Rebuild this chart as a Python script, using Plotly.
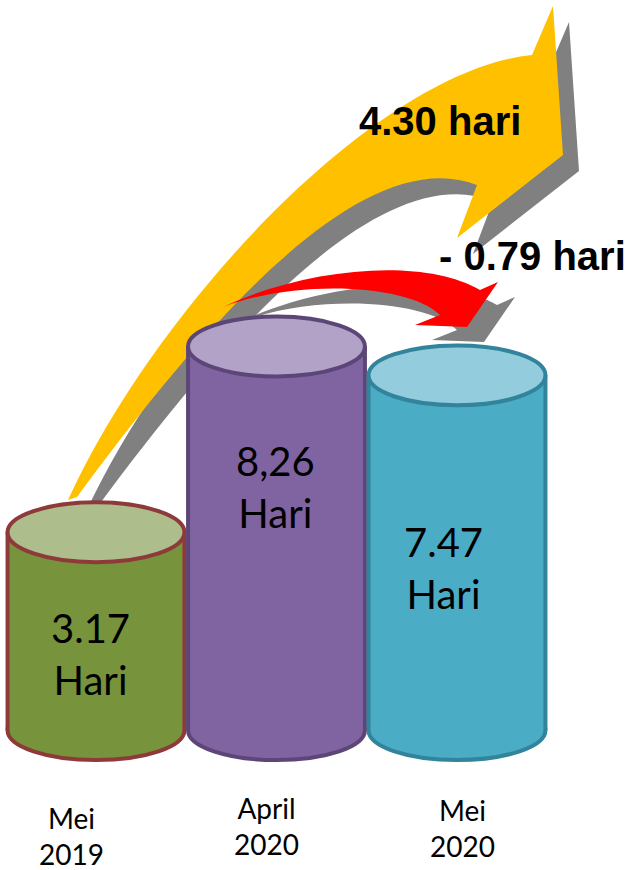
import plotly.graph_objects as go

# ---------------- data ----------------
CATEGORIES = ["Mei 2019", "April 2020", "Mei 2020"]
VALUES = [3.17, 8.26, 7.47]
VALUE_TEXT = ["3.17", "8,26", "7.47"]
UNIT = "Hari"
CHANGE_LABELS = ["4.30 hari", "- 0.79 hari"]

# ---------------- styles ----------------
W, H = 632, 870
BODY_COLORS = ["#77933C", "#8064A2", "#4BACC6"]
TOP_COLORS = ["#ADBE8C", "#B3A2C7", "#93CDDD"]
EDGE_COLORS = ["#8E3A3A", "#5C4677", "#31849B"]
YELLOW, RED, SHADOW = "#FFC000", "#FF0000", "#808080"

X0_PX, X_STEP = 96, 180.5          # pixel of first category, pixels per category
Y0_PX, Y_UNIT = 648, 36.5          # pixel of value 0, pixels per unit
BASE = -2.25                       # cylinder floor (axis units)
BAR_W = 0.98
ELL_RY = 0.82
EDGE_W = 4

LABEL_FONT = "Lato, 'Open Sans', sans-serif"
ARROW_FONT = "'Liberation Sans', Arial, sans-serif"
VALUE_LABEL_PX = [(90, 654), (275, 487), (443, 568)]
CAT_LABEL_PX = [(71, 836), (266, 826), (462, 828)]
CHANGE_LABEL_PX = [(440, 121), (532, 256)]


def P(x, y, dx=0, dy=0):
    return f"{(x + dx) / W:.5f},{1 - (y + dy) / H:.5f}"


def yellow_path(dx=0, dy=0):
    return (f"M {P(68,500,dx,dy)} C {P(160,300,dx,dy)} {P(380,70,dx,dy)} {P(532,55,dx,dy)} "
            f"L {P(553,6,dx,dy)} L {P(563,155,dx,dy)} L {P(457,238,dx,dy)} L {P(477,185,dx,dy)} "
            f"C {P(360,140,dx,dy)} {P(200,330,dx,dy)} {P(77,497,dx,dy)} Z")


def red_path(dx=0, dy=0):
    return (f"M {P(223,307,dx,dy)} C {P(300,270,dx,dy)} {P(420,255,dx,dy)} {P(480,290,dx,dy)} "
            f"L {P(498,282,dx,dy)} L {P(467,327,dx,dy)} L {P(415,325,dx,dy)} L {P(440,315,dx,dy)} "
            f"C {P(410,285,dx,dy)} {P(300,278,dx,dy)} {P(223,307,dx,dy)} Z")


xs = list(range(len(VALUES)))

fig = go.Figure()
fig.add_trace(go.Bar(
    x=xs, y=[v - BASE for v in VALUES], base=BASE, width=BAR_W,
    marker=dict(color=BODY_COLORS, line=dict(width=0)),
    hoverinfo="skip", showlegend=False,
))

shapes = []
# arrows (behind everything)
shapes.append(dict(type="path", xref="paper", yref="paper", path=yellow_path(16, 16),
                   fillcolor=SHADOW, line=dict(width=0), layer="below"))
shapes.append(dict(type="path", xref="paper", yref="paper", path=yellow_path(),
                   fillcolor=YELLOW, line=dict(width=0), layer="below"))
shapes.append(dict(type="path", xref="paper", yref="paper", path=red_path(17, 15),
                   fillcolor=SHADOW, line=dict(width=0), layer="below"))
shapes.append(dict(type="path", xref="paper", yref="paper", path=red_path(),
                   fillcolor=RED, line=dict(width=0), layer="below"))

for i, v in enumerate(VALUES):
    x0, x1 = i - BAR_W / 2, i + BAR_W / 2
    shapes.append(dict(type="circle", xref="x", yref="y", x0=x0, x1=x1,
                       y0=BASE - ELL_RY, y1=BASE + ELL_RY,
                       fillcolor=BODY_COLORS[i], line=dict(color=EDGE_COLORS[i], width=EDGE_W),
                       layer="below"))
for i, v in enumerate(VALUES):
    x0, x1 = i - BAR_W / 2, i + BAR_W / 2
    for xe in (x0, x1):
        shapes.append(dict(type="line", xref="x", yref="y", x0=xe, x1=xe, y0=BASE, y1=v,
                           line=dict(color=EDGE_COLORS[i], width=EDGE_W), layer="above"))
    shapes.append(dict(type="circle", xref="x", yref="y", x0=x0, x1=x1,
                       y0=v - ELL_RY, y1=v + ELL_RY,
                       fillcolor=TOP_COLORS[i], line=dict(color=EDGE_COLORS[i], width=EDGE_W),
                       layer="above"))

annotations = []
for i, t in enumerate(VALUE_TEXT):
    px, py = VALUE_LABEL_PX[i]
    annotations.append(dict(x=px / W, y=1 - py / H, xref="paper", yref="paper",
                            text=f"{t}<br>{UNIT}", showarrow=False,
                            font=dict(family=LABEL_FONT, size=40, color="black"),
                            xanchor="center", yanchor="middle", align="center"))
for i, c in enumerate(CATEGORIES):
    px, py = CAT_LABEL_PX[i]
    annotations.append(dict(x=px / W, y=1 - py / H, xref="paper", yref="paper",
                            text=c.replace(" ", "<br>"), showarrow=False,
                            font=dict(family=LABEL_FONT, size=28, color="black"),
                            xanchor="center", yanchor="middle", align="center"))
for i, t in enumerate(CHANGE_LABELS):
    px, py = CHANGE_LABEL_PX[i]
    annotations.append(dict(x=px / W, y=1 - py / H, xref="paper", yref="paper",
                            text=f"<b>{t}</b>", showarrow=False,
                            font=dict(family=ARROW_FONT, size=40, color="black"),
                            xanchor="center", yanchor="middle"))

fig.update_layout(
    width=W, height=H, autosize=False,
    margin=dict(l=0, r=0, t=0, b=0, pad=0),
    paper_bgcolor="white", plot_bgcolor="white",
    xaxis=dict(range=[-X0_PX / X_STEP, (W - X0_PX) / X_STEP], visible=False, fixedrange=True),
    yaxis=dict(range=[(Y0_PX - H) / Y_UNIT, Y0_PX / Y_UNIT], visible=False, fixedrange=True),
    shapes=shapes, annotations=annotations, showlegend=False, bargap=0,
)

fig.write_html("out.html", config={"displayModeBar": False},
               post_script="document.body.style.margin='0';")
